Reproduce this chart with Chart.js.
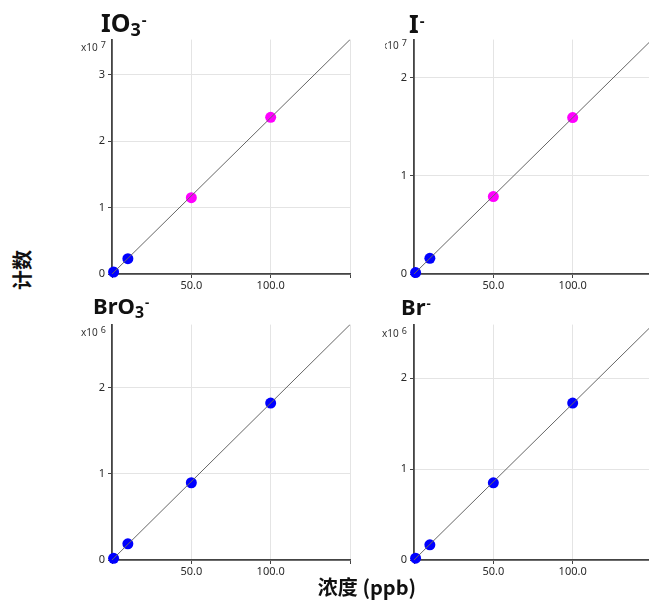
<!DOCTYPE html>
<html lang="zh">
<head>
<meta charset="UTF-8">
<title>校准曲线</title>
<script src="https://cdn.jsdelivr.net/npm/chart.js"></script>
<style>
  body {
    margin: 0;
    width: 649px;
    height: 603px;
    background: #fff;
    position: relative;
    overflow: hidden;
    font-family: 'Noto Sans', sans-serif;
  }
  canvas { position: absolute; }
  .title {
    position: absolute;
    font-weight: bold;
    color: #111;
    line-height: 1;
    white-space: nowrap;
  }
  .title .sub { position: relative; top: 0.24em; font-size: 0.72em; }
  .title .sup { position: relative; top: -0.5em; font-size: 0.6em; margin-left: 1px; }
  .exp {
    position: absolute;
    font-size: 10px;
    color: #333;
    line-height: 1;
    white-space: nowrap;
  }
  .exp span { position: relative; top: -3px; margin-left: 3px; font-size: 9px; }
  .clip { position: absolute; overflow: hidden; }
  .ylab {
    position: absolute;
    left: 2px; top: 260px;
    width: 40px; text-align: center;
    transform: rotate(-90deg);
    font: bold 20px 'Noto Sans CJK SC', sans-serif;
    line-height: 1;
    color: #111;
  }
  .xlab {
    position: absolute;
    left: 267px; top: 577px; width: 200px;
    text-align: center;
    font: bold 20px 'Noto Sans CJK SC', sans-serif;
    line-height: 1;
    color: #111;
  }
</style>
</head>
<body>

<canvas id="c1" width="280" height="270" style="left:80px; top:30px;"></canvas>
<canvas id="c2" width="280" height="270" style="left:382px; top:30px;"></canvas>
<canvas id="c3" width="280" height="271" style="left:80px; top:315px;"></canvas>
<canvas id="c4" width="280" height="271" style="left:382px; top:315px;"></canvas>

<div class="title" style="left:101px; top:10px; font-size:25px;">IO<span class="sub">3</span><span class="sup">-</span></div>
<div class="title" style="left:409px; top:11px; font-size:25px;">I<span class="sup">-</span></div>
<div class="title" style="left:93px; top:294px; font-size:22px;">BrO<span class="sub">3</span><span class="sup">-</span></div>
<div class="title" style="left:401px; top:295px; font-size:22px;">Br<span class="sup">-</span></div>

<div class="exp" style="left:81px; top:42px;">x10<span>7</span></div>
<div class="clip" style="left:385px; top:34px; width:30px; height:20px;">
  <div class="exp" style="left:-3px; top:6px;">x10<span>7</span></div>
</div>
<div class="exp" style="left:81px; top:327px;">x10<span>6</span></div>
<div class="exp" style="left:382px; top:328px;">x10<span>6</span></div>

<div class="ylab">计数</div>
<div class="xlab">浓度 (ppb)</div>

<script>
  // 标准浓度 (ppb)
  const concentrations = [1, 10, 50, 100];

  // 各离子计数
  const io3Counts  = [0.03e7, 0.23e7, 1.15e7, 2.36e7];
  const iCounts    = [0.015e7, 0.16e7, 0.79e7, 1.595e7];
  const bro3Counts = [0.02e6, 0.188e6, 0.896e6, 1.82e6];
  const brCounts   = [0.02e6, 0.167e6, 0.849e6, 1.727e6];

  // 点颜色
  const io3Colors  = ['#0000ff', '#0000ff', '#ff00ff', '#ff00ff'];
  const iColors    = ['#0000ff', '#0000ff', '#ff00ff', '#ff00ff'];
  const bro3Colors = ['#0000ff', '#0000ff', '#0000ff', '#0000ff'];
  const brColors   = ['#0000ff', '#0000ff', '#0000ff', '#0000ff'];

  // 拟合线端点
  const fitX = [0, 150];
  const io3Fit  = [0, 3.53e7];
  const iFit    = [0, 2.39e7];
  const bro3Fit = [0, 2.73e6];
  const brFit   = [0, 2.58e6];

  // 轴范围
  const io3Max = 3.53e7;
  const iMax = 2.39e7;
  const bro3Max = 2.73e6;
  const brMax = 2.59e6;

  // 刻度
  const xTicks = [0, 50, 100, 150];
  const xLabels = [50, 100];
  const yTicks7 = [0, 1, 2, 3];
  const yTicks7b = [0, 1, 2];
  const yTicks6 = [0, 1, 2];

  function drawPanel(id, xs, ys, colors, fitY, yMax, unit, yTicks) {
    const ctx = document.getElementById(id).getContext('2d');
    const points = xs.map((x, i) => ({ x: x, y: ys[i] }));
    const fit = fitX.map((x, i) => ({ x: x, y: fitY[i] }));

    new Chart(ctx, {
      type: 'scatter',
      data: {
        datasets: [
          {
            type: 'line',
            data: fit,
            borderColor: '#666',
            borderWidth: 1,
            pointRadius: 0,
            fill: false
          },
          {
            data: points,
            backgroundColor: colors,
            borderWidth: 0,
            pointRadius: 5.5,
            clip: false
          }
        ]
      },
      options: {
        responsive: false,
        animation: false,
        layout: { padding: { top: 8, right: 10, left: 0, bottom: 0 } },
        plugins: { legend: { display: false }, tooltip: { enabled: false } },
        scales: {
          x: {
            type: 'linear',
            min: 0,
            max: 150,
            afterBuildTicks: s => { s.ticks = xTicks.map(v => ({ value: v })); },
            afterFit: s => { s.height = 26; },
            grid: { color: '#e4e4e4', tickColor: '#444', tickLength: 4 },
            border: { color: '#444', width: 1.8 },
            ticks: {
              color: '#2a2a2a',
              font: { size: 11, family: 'Noto Sans' },
              padding: 1,
              maxRotation: 0,
              autoSkip: false,
              callback: v => xLabels.includes(v) ? v.toFixed(1) : ''
            }
          },
          y: {
            type: 'linear',
            min: 0,
            max: yMax,
            afterBuildTicks: s => { s.ticks = yTicks.map(v => ({ value: v * unit })); },
            afterFit: s => { s.width = 32; },
            grid: { color: '#e4e4e4', tickColor: '#444', tickLength: 4 },
            border: { color: '#444', width: 1.8 },
            ticks: {
              color: '#2a2a2a',
              font: { size: 11, family: 'Noto Sans' },
              padding: 3,
              callback: v => String(Math.round(v / unit))
            }
          }
        }
      }
    });
  }

  drawPanel('c1', concentrations, io3Counts, io3Colors, io3Fit, io3Max, 1e7, yTicks7);
  drawPanel('c2', concentrations, iCounts, iColors, iFit, iMax, 1e7, yTicks7b);
  drawPanel('c3', concentrations, bro3Counts, bro3Colors, bro3Fit, bro3Max, 1e6, yTicks6);
  drawPanel('c4', concentrations, brCounts, brColors, brFit, brMax, 1e6, yTicks6);
</script>

</body>
</html>
